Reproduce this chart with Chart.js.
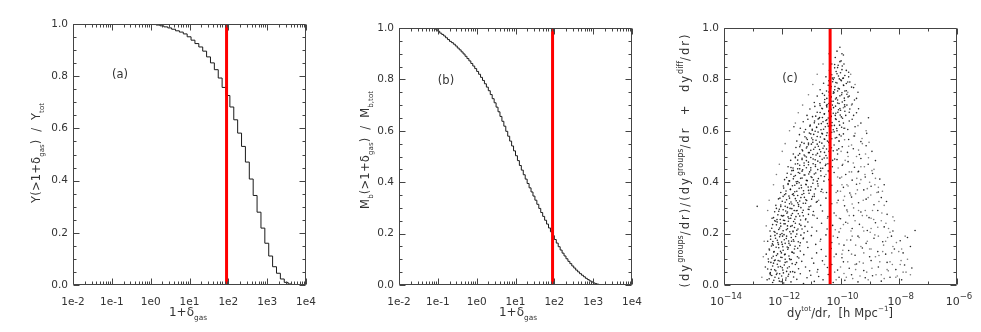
<!DOCTYPE html>
<html><head><meta charset="utf-8">
<script src="https://cdn.jsdelivr.net/npm/chart.js@4.4.0/dist/chart.umd.min.js"></script>
<style>
html,body{margin:0;padding:0;background:#fff;width:981px;height:332px;overflow:hidden}
canvas{position:absolute;top:0}
</style></head><body>
<canvas id="ca" width="330" height="332" style="left:0px"></canvas>
<canvas id="cb" width="325" height="332" style="left:330px"></canvas>
<canvas id="cc" width="326" height="332" style="left:655px"></canvas>
<script>
// ---------- DATA ----------
// Panel (a): cumulative Y fraction, step bins (log10(1+delta) left edges)
const aLogEdges = [-2.00,0.04,0.14,0.24,0.34,0.44,0.54,0.64,0.74,0.84,0.94,1.04,1.14,1.24,1.34,1.44,1.54,1.64,1.74,1.84,1.94,2.04,2.14,2.24,2.34,2.44,2.54,2.64,2.74,2.84,2.94,3.04,3.14,3.24,3.34,3.44,3.54,3.64,3.74,4.00];
const aValues = [1.000,0.998,0.996,0.993,0.989,0.985,0.980,0.974,0.969,0.962,0.951,0.938,0.925,0.912,0.896,0.874,0.851,0.825,0.793,0.757,0.726,0.682,0.633,0.582,0.531,0.471,0.406,0.343,0.279,0.218,0.160,0.111,0.070,0.045,0.023,0.010,0.004,0.001,0.000,0.000];
// Panel (b): cumulative baryon mass fraction
const bLogEdges = [-2.00,-1.15,-1.10,-1.05,-1.00,-0.95,-0.90,-0.85,-0.80,-0.75,-0.70,-0.65,-0.60,-0.55,-0.50,-0.45,-0.40,-0.35,-0.30,-0.25,-0.20,-0.15,-0.10,-0.05,0.00,0.05,0.10,0.15,0.20,0.25,0.30,0.35,0.40,0.45,0.50,0.55,0.60,0.65,0.70,0.75,0.80,0.85,0.90,0.95,1.00,1.05,1.10,1.15,1.20,1.25,1.30,1.35,1.40,1.45,1.50,1.55,1.60,1.65,1.70,1.75,1.80,1.85,1.90,1.95,2.00,2.05,2.10,2.15,2.20,2.25,2.30,2.35,2.40,2.45,2.50,2.55,2.60,2.65,2.70,2.75,2.80,2.85,2.90,2.95,3.00,3.05,3.10,3.15,3.20,4.00];
const bValues = [1.000,0.999,0.997,0.993,0.987,0.980,0.975,0.969,0.962,0.955,0.948,0.943,0.937,0.930,0.922,0.915,0.907,0.899,0.890,0.881,0.872,0.862,0.852,0.842,0.831,0.820,0.808,0.796,0.783,0.770,0.756,0.741,0.725,0.709,0.692,0.674,0.656,0.637,0.618,0.598,0.579,0.560,0.541,0.522,0.503,0.484,0.465,0.447,0.429,0.412,0.395,0.378,0.362,0.346,0.330,0.314,0.298,0.282,0.267,0.252,0.237,0.222,0.207,0.192,0.177,0.163,0.149,0.136,0.124,0.113,0.102,0.092,0.083,0.074,0.066,0.058,0.051,0.044,0.038,0.032,0.026,0.021,0.016,0.012,0.008,0.005,0.003,0.001,0.000,0.000];
// Vertical threshold markers
const aThreshold = 90;
const bThreshold = 90;
const cThreshold = 4.4e-11;
// Tick labels
const abTickValues = [1e-2,1e-1,1e0,1e1,1e2,1e3,1e4];
const cTickValues = [1e-14,1e-12,1e-10,1e-8,1e-6];
// Panel (c): scatter, [log10(dy_tot/dr), fraction] -- broad cloud
const scatterPoints = [
[-12.52,0.02],[-12.41,0.04],[-12.33,0.01],[-12.25,0.03],[-12.18,0.046],[-12.1,0.015],[-12.02,0.035],[-11.95,0.008],[-11.87,0.027],[-11.78,0.042],[-11.7,0.012],[-11.61,0.031],[-11.5,0.022],[-11.38,0.044],[-11.27,0.006],[-11.15,0.028],[-11.02,0.038],[-10.9,0.014],[-10.75,0.033],[-10.6,0.02],[-10.42,0.041],[-10.25,0.01],[-10.05,0.03],[-9.85,0.018],[-9.62,0.04],[-9.4,0.012],[-9.15,0.028],[-8.9,0.036],[-8.6,0.015],[-8.3,0.03],[-7.9,0.02],
[-12.58,0.07],[-12.47,0.09],[-12.38,0.06],[-12.3,0.085],[-12.22,0.055],[-12.14,0.095],[-12.06,0.072],[-11.98,0.058],[-11.9,0.088],[-11.82,0.066],[-11.73,0.098],[-11.64,0.052],[-11.55,0.08],[-11.44,0.063],[-11.33,0.092],[-11.2,0.07],[-11.06,0.055],[-10.92,0.085],[-10.78,0.06],[-10.62,0.094],[-10.45,0.068],[-10.3,0.08],[-10.1,0.058],[-9.9,0.09],[-9.7,0.065],[-9.45,0.082],[-9.2,0.056],[-8.95,0.095],[-8.7,0.07],[-8.4,0.088],[-8.1,0.06],[-7.8,0.078],[-7.55,0.066],
[-12.55,0.12],[-12.45,0.14],[-12.36,0.105],[-12.28,0.13],[-12.2,0.115],[-12.12,0.145],[-12.05,0.108],[-11.97,0.135],[-11.9,0.12],[-11.83,0.148],[-11.75,0.102],[-11.67,0.128],[-11.58,0.14],[-11.48,0.11],[-11.38,0.132],[-11.26,0.118],[-11.12,0.146],[-10.98,0.104],[-10.82,0.125],[-10.66,0.138],[-10.5,0.112],[-10.32,0.142],[-10.15,0.12],[-9.95,0.106],[-9.72,0.134],[-9.5,0.116],[-9.25,0.144],[-9.0,0.11],[-8.72,0.13],[-8.45,0.12],[-8.15,0.14],[-7.85,0.125],[-7.6,0.15],
[-12.5,0.17],[-12.4,0.19],[-12.31,0.155],[-12.23,0.182],[-12.15,0.165],[-12.07,0.196],[-12.0,0.158],[-11.93,0.176],[-11.85,0.19],[-11.77,0.162],[-11.69,0.185],[-11.6,0.17],[-11.5,0.198],[-11.4,0.153],[-11.28,0.18],[-11.15,0.167],[-11.0,0.192],[-10.85,0.158],[-10.68,0.178],[-10.5,0.195],[-10.3,0.165],[-10.1,0.185],[-9.88,0.155],[-9.65,0.175],[-9.4,0.19],[-9.12,0.162],[-8.85,0.182],[-8.55,0.168],[-8.25,0.19],[-7.95,0.172],[-7.7,0.185],[-7.44,0.212],
[-12.42,0.21],[-12.33,0.235],[-12.25,0.205],[-12.17,0.245],[-12.09,0.222],[-12.01,0.2],[-11.94,0.238],[-11.86,0.215],[-11.79,0.248],[-11.71,0.228],[-11.63,0.207],[-11.55,0.24],[-11.46,0.218],[-11.36,0.232],[-11.25,0.203],[-11.12,0.245],[-10.98,0.225],[-10.82,0.21],[-10.65,0.24],[-10.46,0.218],[-10.27,0.232],[-10.05,0.206],[-9.82,0.244],[-9.6,0.22],[-9.35,0.236],[-9.08,0.212],[-8.8,0.242],[-8.5,0.226],[-8.2,0.21],
[-12.35,0.26],[-12.26,0.285],[-12.18,0.255],[-12.1,0.295],[-12.03,0.27],[-11.96,0.252],[-11.88,0.288],[-11.8,0.265],[-11.73,0.298],[-11.65,0.278],[-11.57,0.256],[-11.49,0.29],[-11.4,0.268],[-11.31,0.282],[-11.2,0.254],[-11.08,0.294],[-10.95,0.272],[-10.8,0.26],[-10.62,0.288],[-10.43,0.266],[-10.22,0.28],[-10.0,0.258],[-9.78,0.292],[-9.55,0.27],[-9.3,0.284],[-9.02,0.262],[-8.72,0.29],[-8.4,0.275],[-12.86,0.306],
[-12.22,0.31],[-12.13,0.335],[-12.05,0.305],[-11.97,0.345],[-11.9,0.322],[-11.82,0.302],[-11.75,0.338],[-11.67,0.315],[-11.6,0.348],[-11.52,0.328],[-11.44,0.306],[-11.36,0.34],[-11.28,0.318],[-11.19,0.332],[-11.08,0.304],[-10.96,0.344],[-10.83,0.322],[-10.68,0.31],[-10.5,0.338],[-10.3,0.316],[-10.08,0.33],[-9.86,0.308],[-9.62,0.342],[-9.38,0.32],[-9.12,0.334],[-8.85,0.312],[-8.6,0.34],[-8.42,0.325],
[-12.05,0.36],[-11.96,0.385],[-11.88,0.355],[-11.8,0.395],[-11.72,0.372],[-11.65,0.352],[-11.57,0.388],[-11.5,0.365],[-11.42,0.398],[-11.34,0.378],[-11.26,0.356],[-11.18,0.39],[-11.1,0.368],[-11.01,0.382],[-10.9,0.354],[-10.78,0.394],[-10.64,0.372],[-10.48,0.36],[-10.3,0.388],[-10.1,0.366],[-9.9,0.38],[-9.68,0.358],[-9.45,0.392],[-9.2,0.37],[-8.95,0.384],[-8.7,0.362],[-8.5,0.39],
[-11.92,0.41],[-11.83,0.435],[-11.75,0.405],[-11.67,0.445],[-11.6,0.422],[-11.52,0.402],[-11.45,0.438],[-11.37,0.415],[-11.3,0.448],[-11.22,0.428],[-11.14,0.406],[-11.06,0.44],[-10.98,0.418],[-10.9,0.432],[-10.8,0.404],[-10.68,0.444],[-10.55,0.422],[-10.4,0.41],[-10.22,0.438],[-10.02,0.416],[-9.82,0.43],[-9.6,0.408],[-9.38,0.442],[-9.15,0.42],[-8.9,0.434],[-8.65,0.412],
[-11.8,0.46],[-11.71,0.485],[-11.63,0.455],[-11.55,0.495],[-11.47,0.472],[-11.4,0.452],[-11.32,0.488],[-11.25,0.465],[-11.17,0.498],[-11.1,0.478],[-11.02,0.456],[-10.94,0.49],[-10.86,0.468],[-10.78,0.482],[-10.68,0.454],[-10.56,0.494],[-10.43,0.472],[-10.28,0.46],[-10.12,0.488],[-9.94,0.466],[-9.74,0.48],[-9.52,0.458],[-9.3,0.492],[-9.05,0.47],[-8.8,0.484],
[-11.62,0.51],[-11.53,0.535],[-11.45,0.505],[-11.38,0.545],[-11.3,0.522],[-11.22,0.502],[-11.15,0.538],[-11.07,0.515],[-11.0,0.548],[-10.92,0.528],[-10.84,0.506],[-10.76,0.54],[-10.68,0.518],[-10.6,0.532],[-10.5,0.504],[-10.38,0.544],[-10.25,0.522],[-10.1,0.51],[-9.94,0.538],[-9.76,0.516],[-9.56,0.53],[-9.35,0.508],[-9.12,0.542],[-8.92,0.52],
[-11.5,0.56],[-11.41,0.585],[-11.33,0.555],[-11.25,0.595],[-11.17,0.572],[-11.1,0.552],[-11.02,0.588],[-10.95,0.565],[-10.87,0.598],[-10.8,0.578],[-10.72,0.556],[-10.64,0.59],[-10.56,0.568],[-10.48,0.582],[-10.4,0.554],[-10.3,0.594],[-10.18,0.572],[-10.05,0.56],[-9.9,0.588],[-9.72,0.566],[-9.52,0.58],[-9.3,0.558],[-9.1,0.59],
[-11.6,0.616],[-11.38,0.61],[-11.28,0.635],[-11.2,0.605],[-11.12,0.645],[-11.04,0.622],[-10.97,0.602],[-10.89,0.638],[-10.82,0.615],[-10.74,0.648],[-10.66,0.628],[-10.58,0.606],[-10.5,0.64],[-10.42,0.618],[-10.34,0.632],[-10.25,0.604],[-10.15,0.644],[-10.03,0.622],[-9.88,0.61],[-9.7,0.638],[-9.5,0.616],[-9.3,0.63],[-9.04,0.651],
[-11.15,0.66],[-11.05,0.685],[-10.96,0.655],[-10.88,0.695],[-10.8,0.672],[-10.72,0.652],[-10.64,0.688],[-10.56,0.665],[-10.48,0.698],[-10.4,0.678],[-10.32,0.656],[-10.24,0.69],[-10.16,0.668],[-10.07,0.682],[-9.97,0.654],[-9.85,0.694],[-9.7,0.672],[-9.55,0.66],[-9.38,0.686],
[-10.9,0.71],[-10.8,0.735],[-10.71,0.705],[-10.62,0.745],[-10.54,0.722],[-10.46,0.702],[-10.38,0.738],[-10.3,0.715],[-10.22,0.748],[-10.14,0.728],[-10.05,0.706],[-9.96,0.74],[-9.86,0.718],[-9.74,0.732],[-9.6,0.704],[-9.45,0.726],
[-10.7,0.76],[-10.58,0.785],[-10.48,0.755],[-10.4,0.795],[-10.32,0.772],[-10.24,0.752],[-10.16,0.788],[-10.08,0.765],[-9.99,0.798],[-9.9,0.778],[-9.8,0.756],[-9.68,0.79],[-9.55,0.768],
[-10.5,0.81],[-10.38,0.835],[-10.28,0.805],[-10.2,0.845],[-10.12,0.822],[-10.04,0.802],[-9.95,0.838],[-9.85,0.815],[-9.72,0.828],
[-10.3,0.86],[-10.18,0.885],[-10.08,0.855],[-9.98,0.872],[-9.9,0.895],
[-10.12,0.91],[-10.02,0.925]
];
// Panel (c): dense diagonal core of the cloud
const corePoints = [
[-12.45,0.024],[-12.36,0.037],[-12.29,0.018],[-12.2,0.041],[-12.12,0.026],[-12.04,0.013],[-11.96,0.047],[-11.88,0.019],[-11.8,0.034],[-11.72,0.051],
[-12.5,0.062],[-12.41,0.048],[-12.33,0.074],[-12.26,0.059],[-12.17,0.081],[-12.09,0.044],[-12.0,0.067],[-11.93,0.078],[-11.85,0.053],[-11.76,0.071],[-11.66,0.083],[-11.57,0.049],
[-12.48,0.101],[-12.39,0.088],[-12.31,0.112],[-12.24,0.097],[-12.16,0.121],[-12.08,0.093],[-12.01,0.107],[-11.92,0.118],[-11.84,0.09],[-11.77,0.113],[-11.69,0.099],[-11.6,0.124],[-11.51,0.087],[-11.43,0.105],
[-12.44,0.136],[-12.37,0.152],[-12.29,0.128],[-12.21,0.147],[-12.13,0.158],[-12.06,0.131],[-11.98,0.149],[-11.9,0.162],[-11.81,0.139],[-11.73,0.155],[-11.65,0.127],[-11.56,0.151],[-11.47,0.143],[-11.38,0.164],
[-12.4,0.178],[-12.32,0.169],[-12.25,0.193],[-12.17,0.174],[-12.09,0.188],[-12.02,0.167],[-11.94,0.196],[-11.86,0.181],[-11.78,0.171],[-11.7,0.199],[-11.62,0.176],[-11.54,0.189],[-11.45,0.168],[-11.36,0.194],[-11.27,0.183],
[-12.36,0.221],[-12.28,0.208],[-12.2,0.234],[-12.12,0.216],[-12.05,0.229],[-11.97,0.211],[-11.9,0.238],[-11.82,0.219],[-11.74,0.207],[-11.66,0.231],[-11.58,0.224],[-11.5,0.213],[-11.41,0.237],[-11.32,0.218],[-11.22,0.228],[-11.13,0.209],
[-12.3,0.262],[-12.22,0.248],[-12.15,0.273],[-12.07,0.255],[-11.99,0.268],[-11.92,0.251],[-11.84,0.279],[-11.77,0.259],[-11.69,0.271],[-11.61,0.247],[-11.53,0.266],[-11.45,0.277],[-11.37,0.253],[-11.28,0.269],[-11.19,0.258],[-11.1,0.275],
[-12.2,0.298],[-12.12,0.287],[-12.05,0.311],[-11.97,0.293],[-11.9,0.306],[-11.82,0.284],[-11.75,0.316],[-11.67,0.297],[-11.6,0.309],[-11.52,0.289],[-11.44,0.313],[-11.36,0.301],[-11.28,0.291],[-11.2,0.318],[-11.11,0.295],[-11.02,0.307],[-10.93,0.286],
[-12.08,0.338],[-12.0,0.326],[-11.92,0.351],[-11.85,0.332],[-11.77,0.346],[-11.7,0.323],[-11.62,0.355],[-11.55,0.336],[-11.47,0.348],[-11.4,0.327],[-11.32,0.352],[-11.24,0.341],[-11.16,0.329],[-11.08,0.357],[-10.99,0.334],[-10.9,0.345],[-10.8,0.325],
[-11.95,0.377],[-11.87,0.366],[-11.8,0.391],[-11.72,0.372],[-11.65,0.386],[-11.57,0.363],[-11.5,0.395],[-11.42,0.376],[-11.35,0.388],[-11.27,0.367],[-11.19,0.392],[-11.11,0.381],[-11.03,0.369],[-10.95,0.396],[-10.86,0.374],[-10.77,0.385],[-10.67,0.364],
[-11.85,0.418],[-11.77,0.405],[-11.7,0.431],[-11.62,0.413],[-11.55,0.426],[-11.47,0.403],[-11.4,0.435],[-11.32,0.416],[-11.25,0.428],[-11.17,0.407],[-11.09,0.432],[-11.01,0.421],[-10.93,0.409],[-10.85,0.436],[-10.76,0.414],[-10.67,0.425],[-10.57,0.404],
[-11.7,0.457],[-11.62,0.446],[-11.55,0.471],[-11.47,0.452],[-11.4,0.466],[-11.32,0.443],[-11.25,0.475],[-11.17,0.456],[-11.1,0.468],[-11.02,0.447],[-10.94,0.472],[-10.86,0.461],[-10.78,0.449],[-10.7,0.476],[-10.61,0.454],[-10.52,0.465],[-10.42,0.444],
[-11.55,0.498],[-11.47,0.486],[-11.4,0.511],[-11.32,0.493],[-11.25,0.506],[-11.17,0.484],[-11.1,0.515],[-11.02,0.496],[-10.95,0.508],[-10.87,0.487],[-10.79,0.512],[-10.71,0.501],[-10.63,0.489],[-10.55,0.516],[-10.46,0.494],[-10.37,0.505],[-10.27,0.485],
[-11.4,0.538],[-11.32,0.526],[-11.25,0.551],[-11.17,0.533],[-11.1,0.546],[-11.02,0.524],[-10.95,0.555],[-10.87,0.536],[-10.8,0.548],[-10.72,0.527],[-10.64,0.552],[-10.56,0.541],[-10.48,0.529],[-10.4,0.556],[-10.31,0.534],[-10.22,0.545],[-10.12,0.525],
[-11.22,0.577],[-11.14,0.566],[-11.07,0.591],[-10.99,0.572],[-10.92,0.586],[-10.84,0.563],[-10.77,0.595],[-10.69,0.576],[-10.62,0.588],[-10.54,0.567],[-10.46,0.592],[-10.38,0.581],[-10.3,0.569],[-10.22,0.596],[-10.13,0.574],[-10.04,0.585],
[-11.05,0.618],[-10.97,0.606],[-10.9,0.631],[-10.82,0.613],[-10.75,0.626],[-10.67,0.604],[-10.6,0.635],[-10.52,0.616],[-10.45,0.628],[-10.37,0.607],[-10.29,0.632],[-10.21,0.621],[-10.13,0.609],[-10.05,0.636],[-9.96,0.614],
[-10.85,0.657],[-10.77,0.646],[-10.7,0.671],[-10.62,0.652],[-10.55,0.666],[-10.47,0.643],[-10.4,0.675],[-10.32,0.656],[-10.25,0.668],[-10.17,0.647],[-10.09,0.672],[-10.01,0.661],[-9.93,0.649],[-9.85,0.676],
[-10.7,0.698],[-10.62,0.686],[-10.55,0.711],[-10.47,0.693],[-10.4,0.706],[-10.32,0.684],[-10.25,0.715],[-10.17,0.696],[-10.1,0.708],[-10.02,0.687],[-9.94,0.712],[-9.86,0.701],
[-10.55,0.738],[-10.47,0.726],[-10.4,0.751],[-10.32,0.733],[-10.25,0.746],[-10.17,0.724],[-10.1,0.755],[-10.02,0.736],[-9.95,0.748],[-9.87,0.727],[-9.78,0.742],
[-10.42,0.777],[-10.34,0.766],[-10.27,0.791],[-10.19,0.772],[-10.12,0.786],[-10.04,0.763],[-9.97,0.795],[-9.89,0.776],[-9.8,0.784],
[-10.3,0.818],[-10.22,0.806],[-10.15,0.831],[-10.07,0.813],[-10.0,0.826],[-9.92,0.804],
[-10.2,0.858],[-10.1,0.846],[-10.02,0.869],[-9.94,0.852],
[-9.9,0.63],[-9.82,0.66],[-9.75,0.605],[-9.68,0.685],[-9.6,0.645],[-9.52,0.72],[-9.45,0.67],[-9.4,0.75],[-9.78,0.7],[-9.7,0.735],[-9.62,0.77],[-9.85,0.755],[-9.75,0.79],[-9.9,0.805],[-9.8,0.835],[-9.72,0.81],[-9.88,0.86],[-9.95,0.9],
[-10.5,0.47],[-10.4,0.52],[-10.35,0.58],[-10.3,0.62],[-10.28,0.7],[-10.2,0.76],[-10.38,0.44],[-10.45,0.56],[-10.42,0.65],[-10.33,0.73],[-10.25,0.8],[-10.18,0.66],[-10.12,0.6],[-10.06,0.53],[-10.0,0.68],[-9.98,0.58],[-10.2,0.49],[-10.1,0.72],
[-12.42,0.045],[-12.27,0.095],[-12.14,0.07],[-12.03,0.125],[-11.9,0.1],[-11.79,0.145],[-11.68,0.17],[-12.34,0.16],[-12.18,0.2],[-12.06,0.24],[-11.95,0.27],[-11.82,0.23],[-11.71,0.26],[-11.59,0.29],[-11.47,0.32],[-11.63,0.21],[-12.26,0.25],[-11.99,0.19]
];
// Panel (c): sparser grey halo (mostly right of the core) and left fringe
const haloPoints = [
[-10.2,0.05],[-9.95,0.12],[-9.8,0.03],[-9.6,0.19],[-9.5,0.08],[-9.3,0.15],[-9.1,0.05],[-8.95,0.22],[-8.8,0.11],[-8.6,0.04],[-8.45,0.17],[-8.3,0.09],[-8.15,0.25],[-8.0,0.13],[-7.85,0.05],[-7.7,0.1],
[-10.15,0.27],[-9.9,0.33],[-9.75,0.24],[-9.55,0.3],[-9.42,0.37],[-9.25,0.27],[-9.05,0.34],[-8.9,0.29],[-8.75,0.36],[-8.6,0.25],[-8.5,0.31],
[-10.1,0.42],[-9.92,0.47],[-9.78,0.39],[-9.62,0.44],[-9.45,0.5],[-9.3,0.41],[-9.18,0.46],[-9.0,0.4],[-8.85,0.45],[-8.7,0.38],
[-10.05,0.56],[-9.85,0.61],[-9.72,0.54],[-9.55,0.58],[-9.4,0.62],[-9.25,0.55],[-9.12,0.6],
[-9.9,0.69],[-9.75,0.75],[-9.62,0.7],[-9.5,0.78],[-9.65,0.82],
[-10.35,0.14],[-10.45,0.26],[-10.55,0.08],[-10.6,0.36],[-10.25,0.19],[-10.0,0.22],[-9.7,0.27],[-9.35,0.09],[-9.2,0.21],[-9.0,0.14],[-8.7,0.19],[-8.4,0.06],[-8.2,0.15],[-7.95,0.08],[-7.6,0.04],
[-10.8,0.05],[-10.7,0.17],[-10.9,0.27],[-10.75,0.33],[-10.5,0.43],[-10.35,0.3],[-10.15,0.36],[-9.95,0.39],[-9.65,0.35],[-9.4,0.44],[-9.15,0.29],[-8.95,0.26],[-8.55,0.13],[-8.35,0.22],[-8.1,0.03],
[-12.7,0.03],[-12.65,0.11],[-12.62,0.17],[-12.55,0.23],[-12.5,0.29],[-12.45,0.33],[-12.3,0.39],[-12.2,0.43],[-12.1,0.47],[-12.0,0.52],[-11.9,0.55],[-11.75,0.6],[-11.55,0.63],[-11.45,0.67],[-11.3,0.7],[-11.1,0.74],[-10.95,0.78],[-10.8,0.82],[-10.6,0.86],[-10.4,0.9],
[-10.15,0.02],[-10.0,0.07],[-9.88,0.045],[-9.75,0.09],[-9.58,0.025],[-9.48,0.06],[-9.33,0.035],[-9.22,0.085],[-9.05,0.02],[-8.92,0.065],[-8.78,0.04],[-8.65,0.09],[-8.5,0.025],[-8.36,0.055],[-8.22,0.08],[-8.05,0.035],[-7.92,0.095],[-7.75,0.05],
[-10.22,0.11],[-10.05,0.16],[-9.92,0.135],[-9.78,0.175],[-9.62,0.12],[-9.48,0.155],[-9.36,0.185],[-9.2,0.125],[-9.08,0.17],[-8.95,0.14],[-8.82,0.195],[-8.68,0.115],[-8.52,0.155],[-8.38,0.185],[-8.24,0.125],[-8.08,0.165],[-7.9,0.14],[-7.78,0.19],
[-10.18,0.215],[-10.04,0.26],[-9.9,0.235],[-9.76,0.285],[-9.64,0.21],[-9.5,0.25],[-9.38,0.29],[-9.24,0.225],[-9.1,0.27],[-8.98,0.205],[-8.86,0.255],[-8.72,0.225],[-8.58,0.28],[-8.44,0.24],[-8.3,0.205],[-8.2,0.265],
[-10.12,0.32],[-10.0,0.365],[-9.86,0.345],[-9.74,0.385],[-9.6,0.315],[-9.48,0.355],[-9.34,0.395],[-9.22,0.33],[-9.08,0.375],[-8.96,0.35],[-8.82,0.39],[-8.68,0.325],[-8.56,0.365],
[-10.08,0.455],[-9.96,0.42],[-9.84,0.485],[-9.7,0.44],[-9.56,0.475],[-9.44,0.415],[-9.3,0.46],[-9.16,0.43],[-9.04,0.495],[-8.92,0.445],[-8.8,0.415],
[-9.98,0.52],[-9.86,0.565],[-9.74,0.5],[-9.62,0.545],[-9.5,0.59],[-9.38,0.525],[-9.26,0.57],[-9.14,0.51],[-9.02,0.555]
];

// ---------- RENDERING HELPERS ----------
Chart.defaults.font.family = '"DejaVu Sans", sans-serif';
Chart.defaults.font.size = 10.5;
Chart.defaults.color = '#333';
Chart.defaults.animation = false;

function drawRich(ctx, parts, cx, cy, rotate, size, target, smallScale) {
  ctx.save();
  ctx.translate(cx, cy);
  if (rotate) ctx.rotate(-Math.PI / 2);
  const base = size + 'px "DejaVu Sans"';
  const small = (size * (smallScale || 0.62)).toFixed(1) + 'px "DejaVu Sans"';
  let natural = 0, n = 0;
  parts.forEach(p => { ctx.font = p.s ? small : base; for (const ch of p.t) { natural += ctx.measureText(ch).width; if (!p.s) n++; } });
  const ls = target ? Math.max(0, (target - natural) / n) : 0;
  let x = -(natural + ls * n) / 2;
  ctx.fillStyle = '#333'; ctx.textBaseline = 'alphabetic'; ctx.textAlign = 'left';
  parts.forEach(p => {
    ctx.font = p.s ? small : base;
    const dy = p.s === 'sub' ? size * 0.3 : p.s === 'sup' ? -size * 0.5 : 0;
    for (const ch of p.t) { ctx.fillText(ch, x, size * 0.36 + dy); x += ctx.measureText(ch).width + (p.s ? 0 : ls); }
  });
  ctx.restore();
}

const framePlugin = {
  id: 'frame',
  afterDatasetsDraw(chart, args, o) {
    const { ctx, chartArea: a, scales: { x, y } } = chart;
    const L = Math.round(a.left) + 0.5, R = Math.round(a.right) - 0.5;
    const T = Math.round(a.top) + 0.5, B = Math.round(a.bottom) - 0.5;
    ctx.save();
    ctx.strokeStyle = '#444'; ctx.lineWidth = 1;
    ctx.beginPath();
    ctx.rect(L, T, R - L, B - T);
    for (let k = 0; k <= 20; k++) {
      const py = Math.round(y.getPixelForValue(k * 0.05)) + 0.5;
      const len = k % 4 === 0 ? 6 : 3;
      ctx.moveTo(L, py); ctx.lineTo(L + len, py);
      ctx.moveTo(R, py); ctx.lineTo(R - len, py);
    }
    o.xMarks.forEach(([v, len]) => {
      const px = Math.round(x.getPixelForValue(v)) + 0.5;
      ctx.moveTo(px, B); ctx.lineTo(px, B - len);
      ctx.moveTo(px, T); ctx.lineTo(px, T + len);
    });
    ctx.stroke();
    ctx.restore();
  },
  afterDraw(chart, args, o) {
    const ctx = chart.ctx;
    (o.texts || []).forEach(t => drawRich(ctx, t.parts, t.x, t.y, t.rot, t.size, t.target, t.smallScale));
    if (o.supTicks) {
      const x = chart.scales.x;
      x.ticks.forEach(t => {
        const e = Math.round(Math.log10(t.value));
        drawRich(ctx, [{ t: '10' }, { t: (e < 0 ? '\u2212' : '') + Math.abs(e), s: 'sup' }], x.getPixelForValue(t.value) + 2, o.supTicks, false, 11, 0, 0.78);
      });
    }
  }
};

function abMarks() {
  const m = [];
  for (let d = -2; d < 4; d++) { m.push([Math.pow(10, d), 6]); for (let k = 2; k <= 9; k++) m.push([k * Math.pow(10, d), 3]); }
  m.push([1e4, 6]);
  return m;
}
function cMarks() {
  const m = [];
  for (let e = -14; e <= -6; e++) m.push([Math.pow(10, e), e % 2 === 0 ? 6 : 3]);
  return m;
}

function scales(opts) {
  return {
    x: {
      type: 'logarithmic', min: opts.xmin, max: opts.xmax,
      grid: { display: false, drawTicks: false }, border: { display: false },
      afterBuildTicks: s => { s.ticks = opts.tickValues.map(v => ({ value: v })); },
      ticks: { display: opts.showXTicks, autoSkip: false, maxRotation: 0, padding: 11,
               callback: v => '1e' + Math.round(Math.log10(v)) },
      afterFit: s => { s.height = 47; }
    },
    y: {
      type: 'linear', min: 0, max: 1,
      grid: { display: false, drawTicks: false }, border: { display: false },
      ticks: { stepSize: 0.2, padding: 5, callback: v => v.toFixed(1) },
      afterFit: s => { s.width = opts.yWidth; }
    }
  };
}

function vline(xv) {
  return { type: 'line', data: [{ x: xv, y: 0 }, { x: xv, y: 1 }], borderColor: '#ff0000', borderWidth: 3, pointRadius: 0 };
}
function stepLine(edges, vals) {
  return { type: 'line', data: edges.map((e, i) => ({ x: Math.pow(10, e), y: vals[i] })), stepped: true,
           borderColor: '#1a1a1a', borderWidth: 1, pointRadius: 0, fill: false };
}
function cloud(points, color, r) {
  return { type: 'scatter', data: points.map(p => ({ x: Math.pow(10, p[0]), y: p[1] })),
           pointRadius: r, pointBorderWidth: 0, pointBackgroundColor: color };
}
const common = { responsive: false, maintainAspectRatio: false, animation: false, events: [] };

// Panel (a)
new Chart(document.getElementById('ca'), {
  type: 'line',
  data: { datasets: [vline(aThreshold), stepLine(aLogEdges, aValues)] },
  options: Object.assign({}, common, {
    layout: { autoPadding: false, padding: { left: 0, top: 24, right: 24, bottom: 0 } },
    scales: scales({ xmin: 1e-2, xmax: 1e4, tickValues: abTickValues, showXTicks: true, yWidth: 73 }),
    plugins: { legend: { display: false }, tooltip: { enabled: false },
      frame: { xMarks: abMarks(), texts: [
        { parts: [{ t: '(a)' }], x: 120, y: 74, size: 11.5 },
        { parts: [{ t: '1+\u03b4' }, { t: 'gas', s: 'sub' }], x: 188, y: 312, size: 12, target: 36 },
        { parts: [{ t: 'Y(>1+\u03b4' }, { t: 'gas', s: 'sub' }, { t: ')  /  Y' }, { t: 'tot', s: 'sub' }], x: 36, y: 153, rot: true, size: 11.5, target: 100 }
      ] } }
  }),
  plugins: [framePlugin]
});

// Panel (b)
new Chart(document.getElementById('cb'), {
  type: 'line',
  data: { datasets: [vline(bThreshold), stepLine(bLogEdges, bValues)] },
  options: Object.assign({}, common, {
    layout: { autoPadding: false, padding: { left: 0, top: 28, right: 23, bottom: 0 } },
    scales: scales({ xmin: 1e-2, xmax: 1e4, tickValues: abTickValues, showXTicks: true, yWidth: 69 }),
    plugins: { legend: { display: false }, tooltip: { enabled: false },
      frame: { xMarks: abMarks(), texts: [
        { parts: [{ t: '(b)' }], x: 116, y: 80, size: 11.5 },
        { parts: [{ t: '1+\u03b4' }, { t: 'gas', s: 'sub' }], x: 188, y: 312, size: 12, target: 36 },
        { parts: [{ t: 'M' }, { t: 'b', s: 'sub' }, { t: '(>1+\u03b4' }, { t: 'gas', s: 'sub' }, { t: ')  /  M' }, { t: 'b,tot', s: 'sub' }], x: 35, y: 150, rot: true, size: 11.5, target: 118 }
      ] } }
  }),
  plugins: [framePlugin]
});

// Panel (c)
new Chart(document.getElementById('cc'), {
  type: 'scatter',
  data: { datasets: [
    Object.assign(vline(cThreshold), { showLine: true }),
    cloud(scatterPoints, 'rgba(0,0,0,0.85)', 0.8),
    cloud(corePoints, 'rgba(0,0,0,0.85)', 0.8),
    cloud(haloPoints, 'rgba(80,80,80,0.75)', 0.8)
  ] },
  options: Object.assign({}, common, {
    layout: { autoPadding: false, padding: { left: 0, top: 28, right: 24, bottom: 0 } },
    scales: scales({ xmin: 1e-14, xmax: 1e-6, tickValues: cTickValues, showXTicks: false, yWidth: 69 }),
    plugins: { legend: { display: false }, tooltip: { enabled: false },
      frame: { xMarks: cMarks(), supTicks: 301, texts: [
        { parts: [{ t: '(c)' }], x: 135, y: 78, size: 11.5 },
        { parts: [{ t: 'dy' }, { t: 'tot', s: 'sup' }, { t: '/dr,  [h Mpc' }, { t: '\u22121', s: 'sup' }, { t: ']' }], x: 185, y: 313, size: 11.5, target: 106 },
        { parts: [{ t: '(dy' }, { t: 'groups', s: 'sup' }, { t: '/dr)/(dy' }, { t: 'groups', s: 'sup' }, { t: '/dr  +  dy' }, { t: 'diff', s: 'sup' }, { t: '/dr)' }], x: 30, y: 160, rot: true, size: 11.5, target: 255, smallScale: 0.7 }
      ] } }
  }),
  plugins: [framePlugin]
});
</script>
</body></html>
